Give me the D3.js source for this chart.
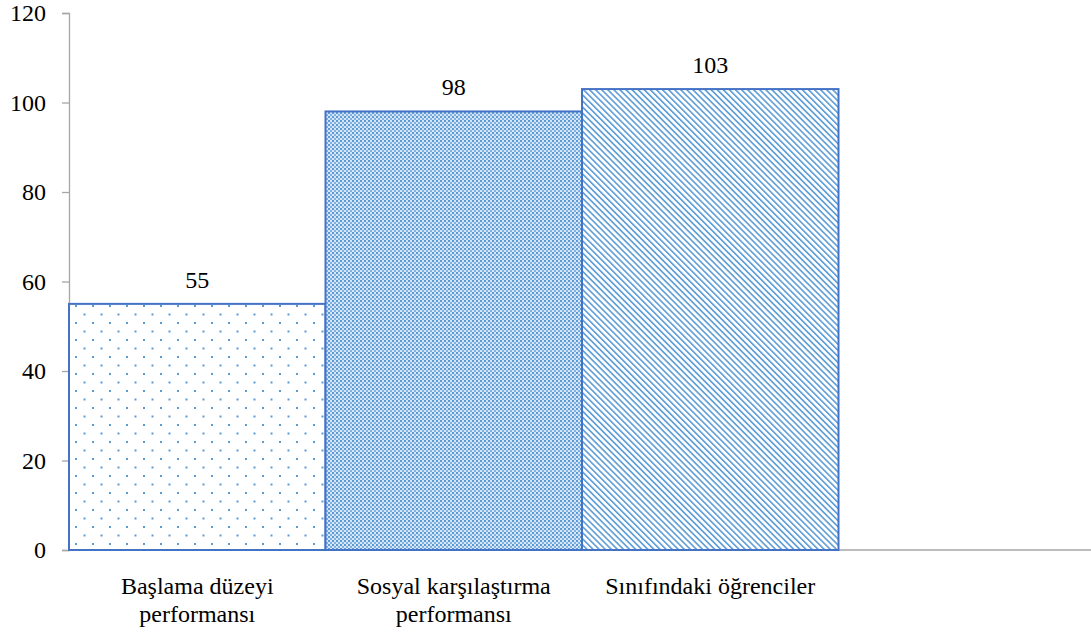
<!DOCTYPE html>
<html>
<head>
<meta charset="UTF-8">
<script src="https://d3js.org/d3.v7.min.js"></script>
<style>
    body { margin: 0; background: #fff; }
    svg text { font-family: 'Liberation Serif', 'Times New Roman', Tinos, serif !important; }
</style>
</head>
<body>
<svg id="chart" width="1091" height="637"></svg>
<script>
    const categories = ['Başlama düzeyi|performansı', 'Sosyal karşılaştırma|performansı', 'Sınıfındaki öğrenciler', ''];
    const values = [55, 98, 103, null];
    const patterns = ['dots', 'checks', 'diag', null];
    const yTicks = [0, 20, 40, 60, 80, 100, 120];

    const FONT = 'Liberation Serif';
    const svg = d3.select('#chart');
    const defs = svg.append('defs');

    // dotted fill
    const pDots = defs.append('pattern').attr('id', 'dots')
        .attr('patternUnits', 'userSpaceOnUse').attr('width', 17).attr('height', 17)
        .attr('x', 75).attr('y', 305);
    pDots.append('rect').attr('width', 17).attr('height', 17).attr('fill', '#fff');
    pDots.append('rect').attr('x', 0).attr('y', 0).attr('width', 2).attr('height', 2).attr('fill', '#5b9bd5');
    pDots.append('rect').attr('x', 8.5).attr('y', 8.5).attr('width', 2).attr('height', 2).attr('fill', '#5b9bd5');

    // small checker fill
    const pChk = defs.append('pattern').attr('id', 'checks')
        .attr('patternUnits', 'userSpaceOnUse').attr('width', 4).attr('height', 4);
    pChk.append('rect').attr('width', 4).attr('height', 4).attr('fill', '#d6e6f6');
    pChk.append('rect').attr('width', 2).attr('height', 2).attr('fill', '#5b9bd5');
    pChk.append('rect').attr('x', 2).attr('y', 2).attr('width', 2).attr('height', 2).attr('fill', '#7fb0e0');

    // diagonal stripes (top-left to bottom-right)
    const pDiag = defs.append('pattern').attr('id', 'diag')
        .attr('patternUnits', 'userSpaceOnUse').attr('width', 4.3).attr('height', 4.3)
        .attr('patternTransform', 'rotate(-45)');
    pDiag.append('rect').attr('width', 4.3).attr('height', 4.3).attr('fill', '#fff');
    pDiag.append('rect').attr('width', 1.6).attr('height', 4.3).attr('fill', '#5b9bd5');

    const x = d3.scaleBand().domain(d3.range(categories.length)).range([69, 1095]).padding(0);
    const y = d3.scaleLinear().domain([0, 120]).range([550, 13]);

    // axes
    svg.append('line').attr('x1', 69).attr('x2', 1091).attr('y1', y(0)).attr('y2', y(0))
        .attr('stroke', '#a6a6a6').attr('stroke-width', 1.3);
    const yAxis = svg.append('g').attr('transform', 'translate(69,0)')
        .call(d3.axisLeft(y).tickValues(yTicks).tickSize(7).tickPadding(16));
    yAxis.attr('font-family', FONT).attr('font-size', 24);
    yAxis.select('.domain').attr('stroke', '#a6a6a6').attr('stroke-width', 1.3);
    yAxis.selectAll('.tick line').attr('stroke', '#a6a6a6').attr('stroke-width', 1.3);
    yAxis.selectAll('.tick text').attr('fill', '#000').attr('font-family', FONT);

    const data = values.map((v, i) => ({ i, v, p: patterns[i] })).filter(d => d.v != null);

    svg.selectAll('rect.bar').data(data).enter().append('rect')
        .attr('class', 'bar')
        .attr('x', d => x(d.i))
        .attr('y', d => y(d.v))
        .attr('width', x.bandwidth())
        .attr('height', d => y(0) - y(d.v))
        .attr('fill', d => `url(#${d.p})`)
        .attr('stroke', '#4472c4')
        .attr('stroke-width', 2);

    svg.selectAll('text.val').data(data).enter().append('text')
        .attr('class', 'val')
        .attr('x', d => x(d.i) + x.bandwidth() / 2)
        .attr('y', d => y(d.v) - 16)
        .attr('text-anchor', 'middle')
        .attr('font-family', FONT)
        .attr('font-size', 24)
        .text(d => d.v);

    const lab = svg.selectAll('text.cat').data(categories).enter().append('text')
        .attr('class', 'cat')
        .attr('x', (d, i) => x(i) + x.bandwidth() / 2)
        .attr('y', 594)
        .attr('text-anchor', 'middle')
        .attr('font-family', FONT)
        .attr('font-size', 24);
    lab.each(function(d) {
        d.split('|').forEach((line, k) => {
            d3.select(this).append('tspan')
                .attr('x', d3.select(this).attr('x'))
                .attr('dy', k === 0 ? 0 : 28)
                .text(line);
        });
    });
</script>
</body>
</html>
